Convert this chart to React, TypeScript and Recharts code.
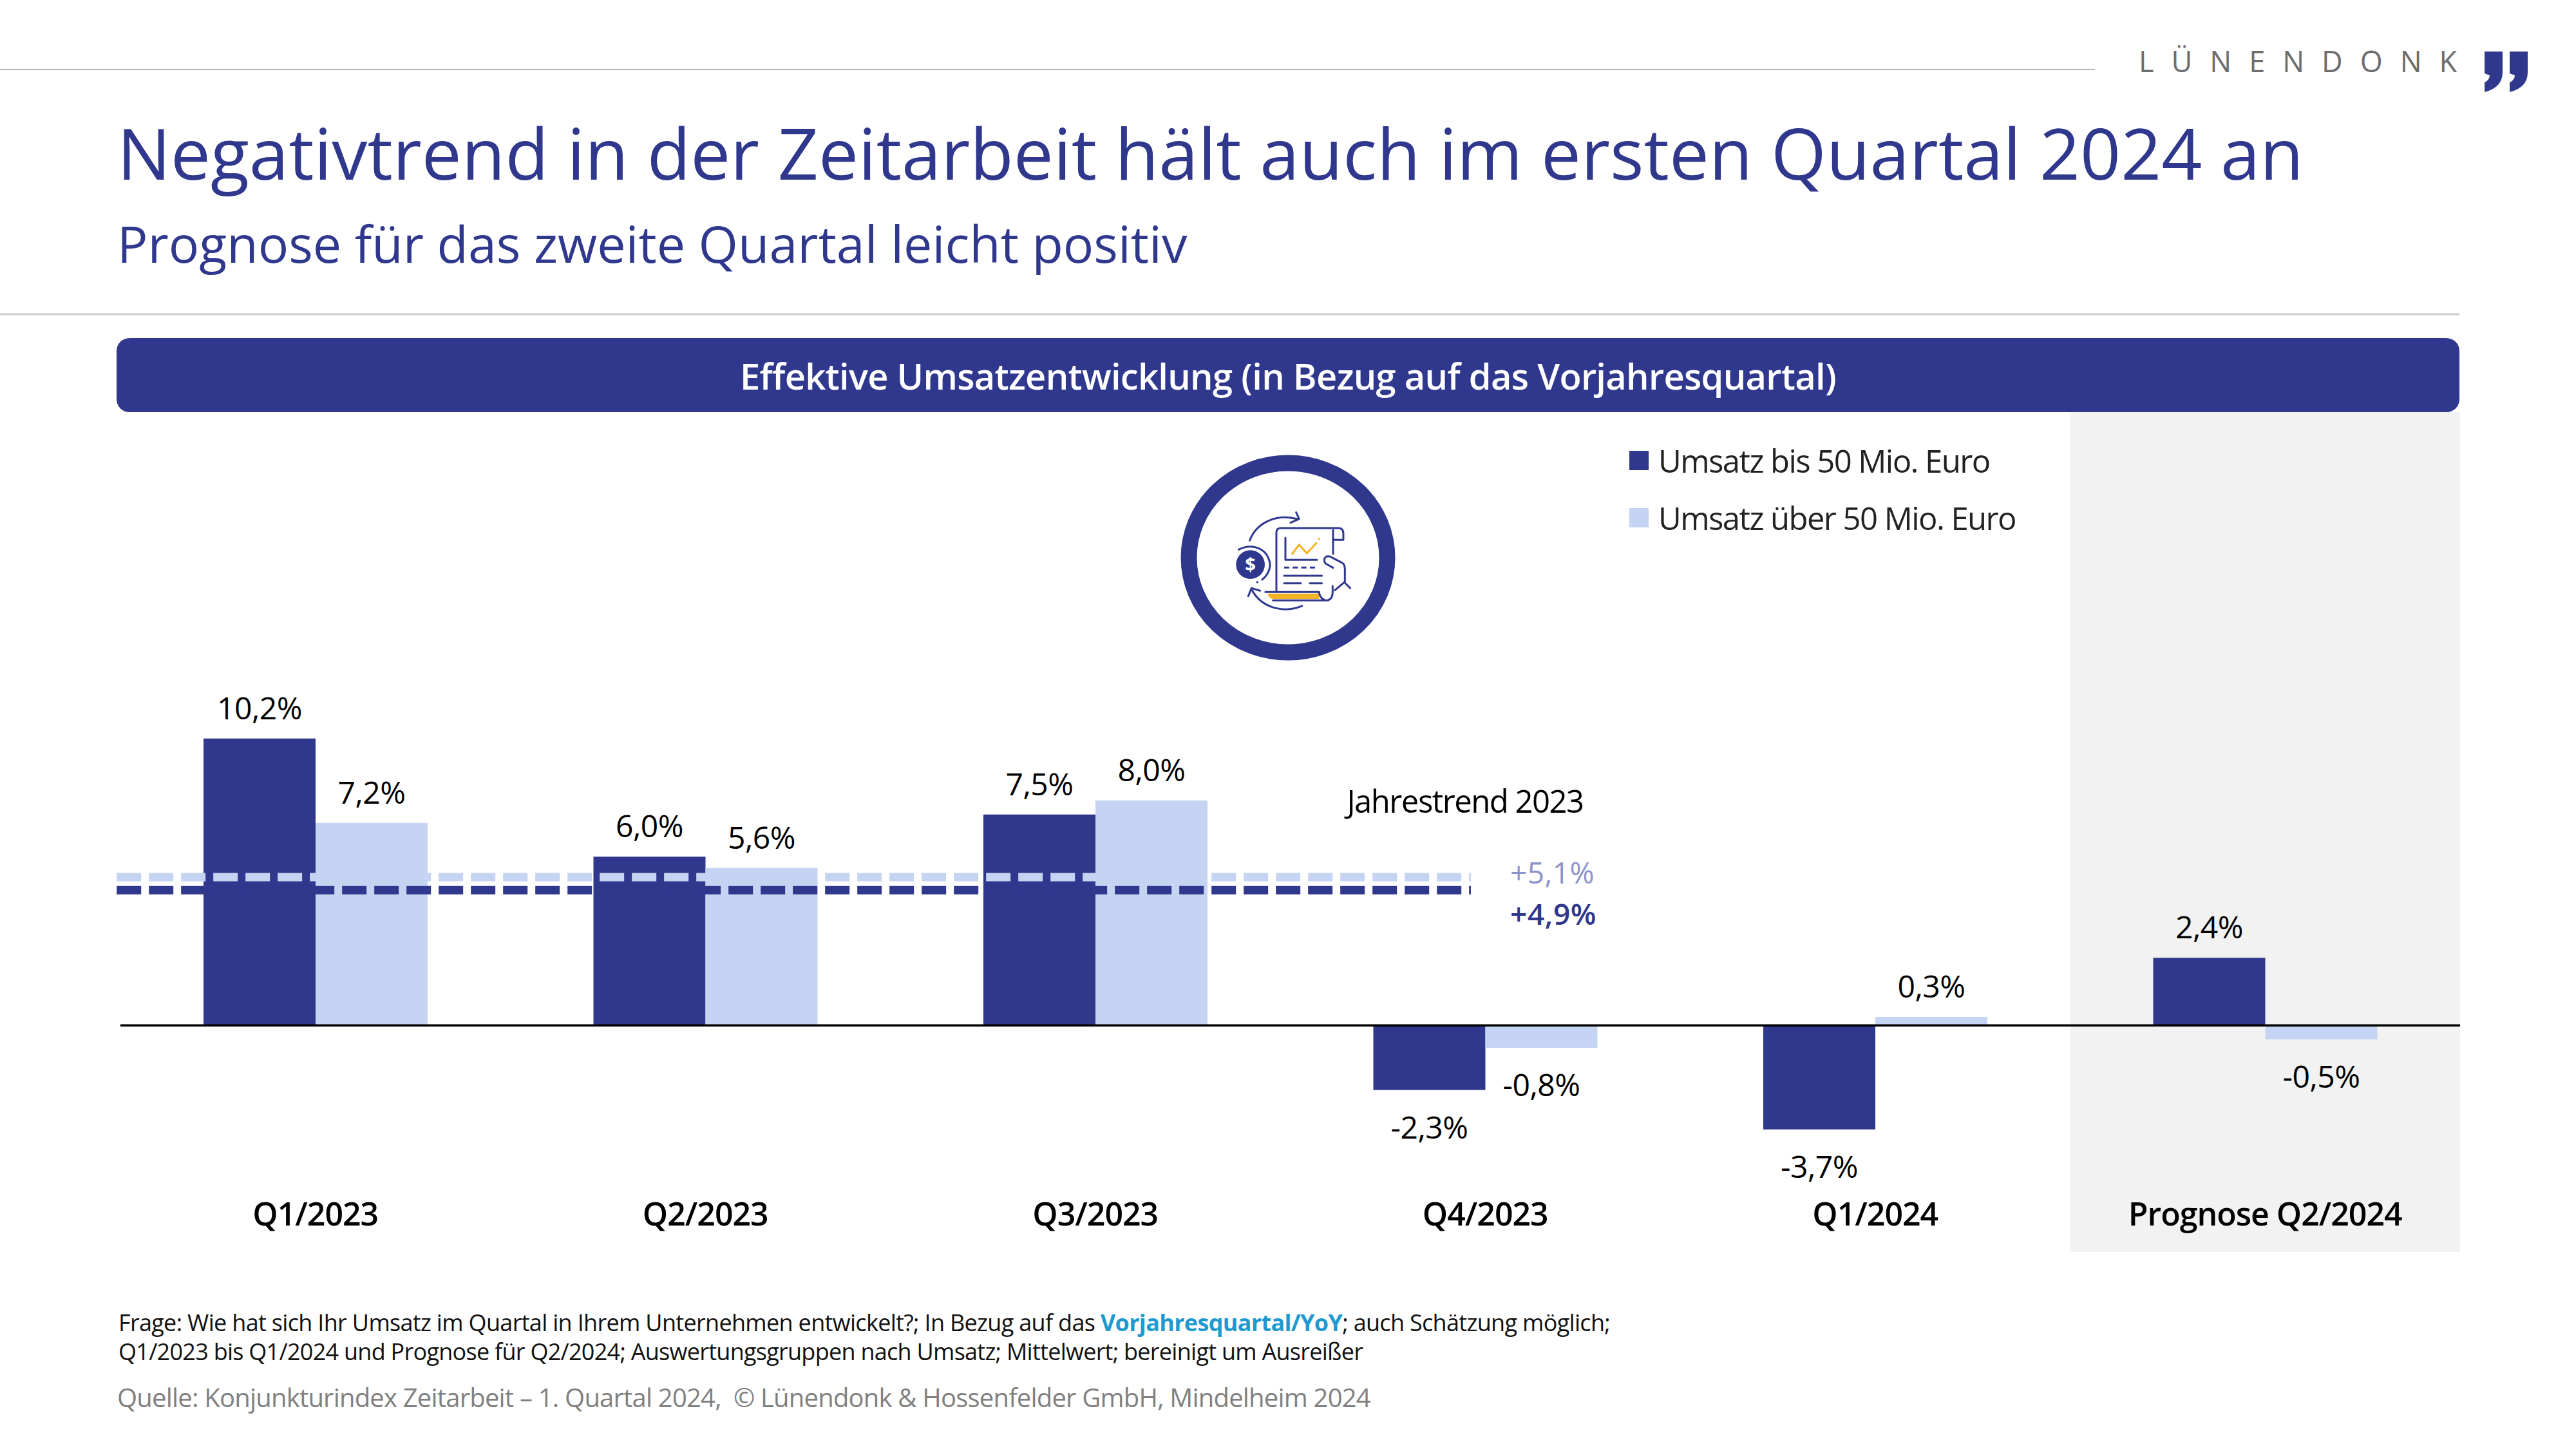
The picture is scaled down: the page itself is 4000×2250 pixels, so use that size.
import { BarChart, Bar, XAxis, YAxis, LabelList, Legend, ReferenceArea, ReferenceLine } from 'recharts';

const NAVY = '#30388E';
const LIGHT = '#C5D4F2';
const FONT = '"Open Sans", sans-serif';

const quarters = ['Q1/2023', 'Q2/2023', 'Q3/2023', 'Q4/2023', 'Q1/2024', 'Prognose Q2/2024'];
const upTo50 = [10.2, 6.0, 7.5, -2.3, -3.7, 2.4];
const over50 = [7.2, 5.6, 8.0, -0.8, 0.3, -0.5];
const seriesNames = ['Umsatz bis 50 Mio. Euro', 'Umsatz über 50 Mio. Euro'];
// where the dashed lines sit in the picture, on the % scale
const trendUpTo50 = 4.81;
const trendOver50 = 5.27;
// how far the dashed lines run, on the hidden 0..5 axis
const trendFrom = -0.008;
const trendTo = 2.886;
const forecastQuarter = quarters[5];

const chartData = quarters.map((quarter, i) => ({
  quarter,
  upTo50: upTo50[i],
  over50: over50[i],
}));

const percent = (value: number) => `${value.toFixed(1).replace('.', ',')}%`;

const BarValue = (props: any) => {
  const { x, y, width, height, value } = props;
  const top = Math.min(y, y + height);
  const bottom = Math.max(y, y + height);
  return (
    <text
      x={x + width / 2}
      y={value >= 0 ? top - 30 : bottom + 75}
      textAnchor="middle"
      fontFamily={FONT}
      fontSize={48}
      fontWeight={500}
      letterSpacing={-0.5}
      fill="#000"
    >
      {percent(value)}
    </text>
  );
};

const QuarterTick = (props: any) => (
  <text
    x={props.x}
    y={props.y - 49}
    textAnchor="middle"
    fontFamily={FONT}
    fontSize={50}
    fontWeight={600}
    letterSpacing={-1}
    fill="#000"
  >
    {props.payload.value}
  </text>
);

const LegendBlock = ({ payload }: any) => (
  <div style={{ fontFamily: FONT, fontSize: 49, color: '#222' }}>
    {(payload || []).map((item: any) => (
      <div key={item.value} style={{ display: 'flex', alignItems: 'center', height: 89 }}>
        <span style={{ width: 30, height: 30, background: item.color, marginRight: 15 }} />
        <span style={{ letterSpacing: -1.55, whiteSpace: 'nowrap' }}>{item.value}</span>
      </div>
    ))}
  </div>
);

const quoteMark = (x: number) =>
  `M${x} 80 H${x + 28} V112 Q${x + 28} 136 ${x} 143 V128 Q${x + 8} 124 ${x + 8} 117 L${x} 114 Z`;

const ReportIcon = () => (
  <g>
    <ellipse cx={2000} cy={866} rx={154} ry={147} fill="#fff" stroke={NAVY} strokeWidth={25} />
    <g transform="translate(1780 680) scale(0.3333)" fill="none" stroke={NAVY} strokeWidth={9} strokeLinecap="round" strokeLinejoin="round">
      <path d="M482 478 C510 400 600 350 705 378" />
      <path d="M698 347 L712 378 L672 395" />
      <circle cx={485} cy={590} r={67} fill={NAVY} stroke="none" />
      <text x={485} y={620} textAnchor="middle" fontFamily={FONT} fontWeight={700} fontSize={88} fill="#fff" stroke="none">$</text>
      <path d="M430 520 C490 490 560 510 575 580 C580 610 565 640 540 660" />
      <circle cx={517} cy={672} r={5} fill={NAVY} stroke="none" />
      <path d="M725 783 C650 815 540 800 490 705" />
      <path d="M475 737 L490 700 L530 712" />
      <path d="M606 715 L606 440 Q606 420 628 420 L895 420 Q918 420 918 445 L918 475 L870 475" />
      <path d="M870 430 L870 540" />
      <path d="M648 465 L648 568 L795 568" />
      <path d="M680 540 L712 497 L748 538 L792 490" stroke="#F5B223" />
      <circle cx={805} cy={470} r={5} fill="#F5B223" stroke="none" />
      <path d="M642 604 L790 604" strokeDasharray="24 16" strokeLinecap="butt" />
      <path d="M642 642 L818 642" />
      <path d="M642 677 L720 677 M762 677 L818 677" />
      <path d="M870 605 L835 585 Q820 565 840 552 Q855 548 870 560 L905 578 Q925 585 925 610 L925 670 L878 710" />
      <path d="M925 675 L950 700" />
      <path d="M565 725 L805 725 L805 750 L590 750 Q572 748 565 725 Z" fill="#F5B223" stroke="none" />
      <path d="M555 718 L805 718" />
      <path d="M590 757 L845 757 Q868 750 868 720 L868 690" />
      <path d="M805 720 Q808 745 830 755" />
    </g>
  </g>
);

const Slide = () => (
  <svg width={4000} height={2250} style={{ position: 'absolute', left: 0, top: 0 }} fontFamily={FONT}>
    <line x1={0} x2={3253} y1={108} y2={108} stroke="#b5b5b5" strokeWidth={2} />
    <text x={3321} y={112} fontSize={45} letterSpacing={27} fill="#6d6d6d">LÜNENDONK</text>
    <path d={quoteMark(3858)} fill={NAVY} />
    <path d={quoteMark(3897)} fill={NAVY} />

    <text x={182} y={279} fontSize={110.3} fill={NAVY}>Negativtrend in der Zeitarbeit hält auch im ersten Quartal 2024 an</text>
    <text x={182} y={408} fontSize={79} fill={NAVY}>Prognose für das zweite Quartal leicht positiv</text>
    <line x1={0} x2={3819} y1={488} y2={488} stroke="#ccc" strokeWidth={3} />

    <rect x={181} y={525} width={3638} height={115} rx={20} fill={NAVY} />
    <text x={2000} y={605} textAnchor="middle" fontSize={56} fontWeight={600} letterSpacing={-0.7} fill="#fff">
      Effektive Umsatzentwicklung (in Bezug auf das Vorjahresquartal)
    </text>

    <ReportIcon />

    <text x={2275} y={1262} textAnchor="middle" fontSize={49} letterSpacing={-1.5} fill="#000">Jahrestrend 2023</text>
    <text x={2345} y={1372} fontSize={46} letterSpacing={0.4} fill="#8C92CC">{'+' + percent(5.1)}</text>
    <text x={2345} y={1436} fontSize={46} letterSpacing={0.6} fontWeight={600} fill={NAVY}>{'+' + percent(4.9)}</text>

    <text x={184} y={2067} fontSize={36} letterSpacing={-0.68} fill="#111">
      Frage: Wie hat sich Ihr Umsatz im Quartal in Ihrem Unternehmen entwickelt?; In Bezug auf das{' '}
      <tspan fill="#1E9AD0" fontWeight={700}>Vorjahresquartal/YoY</tspan>; auch Schätzung möglich;
    </text>
    <text x={184} y={2112} fontSize={36} letterSpacing={-0.73} fill="#111">
      Q1/2023 bis Q1/2024 und Prognose für Q2/2024; Auswertungsgruppen nach Umsatz; Mittelwert; bereinigt um Ausreißer
    </text>
    <text x={182} y={2185} fontSize={40} letterSpacing={-0.8} fill="#808080" style={{ whiteSpace: 'pre' }}>
      {'Quelle: Konjunkturindex Zeitarbeit – 1. Quartal 2024,  © Lünendonk & Hossenfelder GmbH, Mindelheim 2024'}
    </text>
  </svg>
);

export default function App() {
  return (
    <div style={{ position: 'absolute', left: 0, top: 0, width: 4000, height: 2250, background: '#fff', overflow: 'hidden' }}>
      <Slide />
      <div style={{ position: 'absolute', left: 0, top: 0 }}>
        <BarChart
          width={4000}
          height={2250}
          data={chartData}
          margin={{ top: 640, right: 180, bottom: 276, left: 187 }}
          barSize={174}
          barGap={0}
        >
          <XAxis dataKey="quarter" axisLine={false} tickLine={false} tick={<QuarterTick />} interval={0} />
          <XAxis xAxisId="trend" type="number" domain={[0, quarters.length - 1]} height={0} hide />
          <YAxis hide domain={[-8.06, 21.81]} />
          <ReferenceArea x1={forecastQuarter} x2={forecastQuarter} fill="#F2F2F2" fillOpacity={1} stroke="none" />
          <Legend
            layout="vertical"
            align="center"
            verticalAlign="middle"
            content={<LegendBlock />}
            wrapperStyle={{ left: 2530, top: 670, width: 800, height: 180 }}
          />
          <Bar dataKey="upTo50" name={seriesNames[0]} fill={NAVY} isAnimationActive={false}>
            <LabelList dataKey="upTo50" content={<BarValue />} />
          </Bar>
          <Bar dataKey="over50" name={seriesNames[1]} fill={LIGHT} isAnimationActive={false}>
            <LabelList dataKey="over50" content={<BarValue />} />
          </Bar>
          <ReferenceLine
            xAxisId="trend"
            segment={[{ x: trendFrom, y: trendOver50 }, { x: trendTo, y: trendOver50 }]}
            stroke={LIGHT}
            strokeWidth={13}
            strokeDasharray="38 12"
            ifOverflow="visible"
          />
          <ReferenceLine
            xAxisId="trend"
            segment={[{ x: trendFrom, y: trendUpTo50 }, { x: trendTo, y: trendUpTo50 }]}
            stroke={NAVY}
            strokeWidth={13}
            strokeDasharray="38 12"
            ifOverflow="visible"
          />
          <ReferenceLine y={0} stroke="#000" strokeWidth={3.5} />
        </BarChart>
      </div>
    </div>
  );
}
